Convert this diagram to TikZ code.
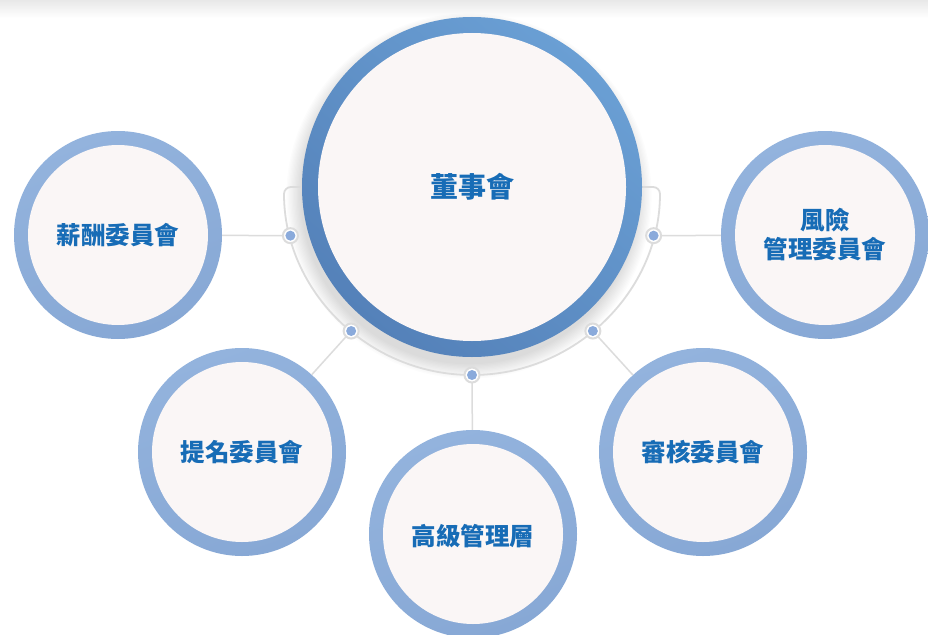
\documentclass[tikz,border=0pt]{standalone}
\usepackage{fontspec}
\newfontfamily\cjk{Noto Sans CJK TC}
\usetikzlibrary{calc}
\definecolor{ringC1}{HTML}{6A9FD4}
\definecolor{ringC2}{HTML}{5481B9}
\definecolor{ringS1}{HTML}{93B3DD}
\definecolor{ringS2}{HTML}{87A8D5}
\definecolor{inner}{HTML}{FAF6F6}
\definecolor{txt}{HTML}{176CB6}
\definecolor{lineg}{HTML}{DCDCDC}
\definecolor{dotb}{HTML}{8AAADB}
\tikzset{
  sat/.style={circle, minimum size=208pt, inner sep=0pt, shading=axis, top color=ringS1, bottom color=ringS2, shading angle=20},
  lbl/.style={font=\cjk\bfseries\fontsize{24.5}{29}\selectfont, text=txt, align=center},
  conn/.style={draw=lineg, line width=1.5pt},
  dotring/.style={circle, fill=white, draw=lineg, line width=2pt, minimum size=15pt, inner sep=0pt},
}
\begin{document}
\begin{tikzpicture}[x=1pt,y=-1pt]
\useasboundingbox (0,0) rectangle (928,634);
\fill[white] (0,0) rectangle (928,634);
\shade[top color=black!9, bottom color=white] (0,0) rectangle (928,18);
% centre
\coordinate (C) at (472,187);
% shadow
\foreach \i in {1,...,12}{
  \fill[black, opacity=0.013] ($(C)+(-3,9)$) circle ({167+1.3*\i});
}
% arc bracket
\path (C) ++(165:188) coordinate (d1);
\path (C) ++(130:188) coordinate (d2);
\path (C) ++(90:188) coordinate (d3);
\path (C) ++(50:188) coordinate (d4);
\path (C) ++(15:188) coordinate (d5);
\coordinate (aL) at (305,187);
\coordinate (aR) at (639,187);
\draw[lineg, line width=1.8pt, rounded corners=7pt] (aL) -- (284,187) arc[start angle=180, end angle=0, radius=188] -- (aR);
% satellites
\node[sat] (s1) at (118,235) {};
\node[sat] (s5) at (825,235) {};
\node[sat] (s2) at (242,452) {};
\node[sat] (s3) at (473,534) {};
\node[sat] (s4) at (703,452) {};
\foreach \s in {s1,s2,s3,s4,s5}{
  \fill[inner] (\s) circle (90);
}
% connectors
\draw[conn] (d1) -- (s1);
\draw[conn] (d2) -- (s2);
\draw[conn] (d3) -- (s3);
\draw[conn] (d4) -- (s4);
\draw[conn] (d5) -- (s5);
% center circle
\node[circle, minimum size=340pt, inner sep=0pt, shading=axis, top color=ringC1, bottom color=ringC2, shading angle=-40] (cc) at (C) {};
\fill[inner] (cc) circle (154);
% dots
\foreach \d in {d1,d2,d3,d4,d5}{
  \node[dotring] at (\d) {};
  \fill[dotb] (\d) circle (5);
}
% labels
\node[lbl, font=\cjk\bfseries\fontsize{28}{32}\selectfont] at (cc) {董事會};
\node[lbl] at (s1) {薪酬委員會};
\node[lbl] at (s5) {風險\\管理委員會};
\node[lbl] at (s2) {提名委員會};
\node[lbl] at ($(s3)+(0,2)$) {高級管理層};
\node[lbl] at (s4) {審核委員會};
\end{tikzpicture}
\end{document}
